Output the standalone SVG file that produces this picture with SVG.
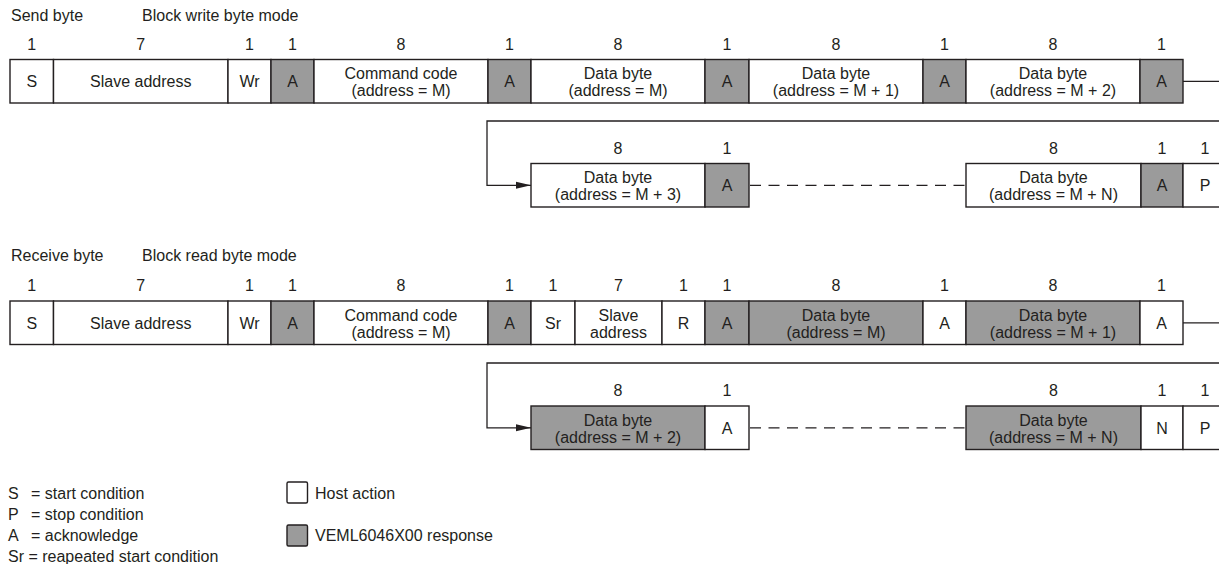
<svg xmlns="http://www.w3.org/2000/svg" width="1219" height="564" viewBox="0 0 1219 564">
<defs>
<style>
text{font-family:"Liberation Sans",Arial,sans-serif;font-size:16px;fill:#231f20}
.n{font-size:16px;text-anchor:middle}
.c{text-anchor:middle}
.h{fill:#fff;stroke:#231f20;stroke-width:1.4}
.g{fill:#9b9b9b;stroke:#231f20;stroke-width:1.4}
.ln{fill:none;stroke:#231f20;stroke-width:1.3}
.ds{fill:none;stroke:#231f20;stroke-width:1.3;stroke-dasharray:11 7.5}
</style>
<marker id="arr" markerWidth="16" markerHeight="8" refX="15" refY="4" orient="auto" markerUnits="userSpaceOnUse">
<path d="M0,0.5 L15,4 L0,7.5 Z" fill="#231f20"/>
</marker>
</defs>
<rect width="1219" height="564" fill="#fff"/>

<!-- headers -->
<text x="11" y="21">Send byte</text>
<text x="142" y="21">Block write byte mode</text>
<text x="11" y="261">Receive byte</text>
<text x="142" y="261">Block read byte mode</text>

<!-- connectors -->
<g id="connectors">
<line class="ln" x1="1183" y1="81.3" x2="1225" y2="81.3"/>
<polyline class="ln" points="1225,121 487,121 487,185.3 531,185.3" marker-end="url(#arr)"/>
<line class="ds" x1="750" y1="185.3" x2="966" y2="185.3"/>
<line class="ln" x1="1183" y1="322.8" x2="1225" y2="322.8"/>
<polyline class="ln" points="1225,363 487,363 487,427.8 531,427.8" marker-end="url(#arr)"/>
<line class="ds" x1="750" y1="427.8" x2="966" y2="427.8"/>
</g>

<!-- Row 1 -->
<g id="row1">
<g id="r1-s"><rect class="h" x="10" y="59.5" width="43.5" height="43.5"/><text class="c" x="31.75" y="87">S</text><text class="n" x="31.75" y="49.5">1</text></g>
<g id="r1-addr"><rect class="h" x="53.5" y="59.5" width="174.5" height="43.5"/><text class="c" x="140.75" y="87">Slave address</text><text class="n" x="140.75" y="49.5">7</text></g>
<g id="r1-wr"><rect class="h" x="228" y="59.5" width="43" height="43.5"/><text class="c" x="249.5" y="87">Wr</text><text class="n" x="249.5" y="49.5">1</text></g>
<g id="r1-a1"><rect class="g" x="271" y="59.5" width="43" height="43.5"/><text class="c" x="292.5" y="87">A</text><text class="n" x="292.5" y="49.5">1</text></g>
<g id="r1-cmd"><rect class="h" x="314" y="59.5" width="174" height="43.5"/><text class="c" x="401" y="79">Command code</text><text class="c" x="401" y="96">(address = M)</text><text class="n" x="401" y="49.5">8</text></g>
<g id="r1-a2"><rect class="g" x="488" y="59.5" width="43" height="43.5"/><text class="c" x="509.5" y="87">A</text><text class="n" x="509.5" y="49.5">1</text></g>
<g id="r1-d0"><rect class="h" x="531" y="59.5" width="174" height="43.5"/><text class="c" x="618" y="79">Data byte</text><text class="c" x="618" y="96">(address = M)</text><text class="n" x="618" y="49.5">8</text></g>
<g id="r1-a3"><rect class="g" x="705" y="59.5" width="44" height="43.5"/><text class="c" x="727" y="87">A</text><text class="n" x="727" y="49.5">1</text></g>
<g id="r1-d1"><rect class="h" x="749" y="59.5" width="174" height="43.5"/><text class="c" x="836" y="79">Data byte</text><text class="c" x="836" y="96">(address = M + 1)</text><text class="n" x="836" y="49.5">8</text></g>
<g id="r1-a4"><rect class="g" x="923" y="59.5" width="43" height="43.5"/><text class="c" x="944.5" y="87">A</text><text class="n" x="944.5" y="49.5">1</text></g>
<g id="r1-d2"><rect class="h" x="966" y="59.5" width="174" height="43.5"/><text class="c" x="1053" y="79">Data byte</text><text class="c" x="1053" y="96">(address = M + 2)</text><text class="n" x="1053" y="49.5">8</text></g>
<g id="r1-a5"><rect class="g" x="1140" y="59.5" width="43" height="43.5"/><text class="c" x="1161.5" y="87">A</text><text class="n" x="1161.5" y="49.5">1</text></g>
</g>

<!-- Row 2 -->
<g id="row2">
<g id="r2-d3"><rect class="h" x="531" y="163.5" width="174" height="43.5"/><text class="c" x="618" y="183">Data byte</text><text class="c" x="618" y="200">(address = M + 3)</text><text class="n" x="618" y="153.5">8</text></g>
<g id="r2-a1"><rect class="g" x="705" y="163.5" width="44" height="43.5"/><text class="c" x="727" y="191">A</text><text class="n" x="727" y="153.5">1</text></g>
<g id="r2-dn"><rect class="h" x="966" y="163.5" width="175" height="43.5"/><text class="c" x="1053.5" y="183">Data byte</text><text class="c" x="1053.5" y="200">(address = M + N)</text><text class="n" x="1053.5" y="153.5">8</text></g>
<g id="r2-a2"><rect class="g" x="1141" y="163.5" width="42" height="43.5"/><text class="c" x="1162" y="191">A</text><text class="n" x="1162" y="153.5">1</text></g>
<g id="r2-p"><rect class="h" x="1183" y="163.5" width="44" height="43.5"/><text class="c" x="1205" y="191">P</text><text class="n" x="1205" y="153.5">1</text></g>
</g>

<!-- Row 3 -->
<g id="row3">
<g id="r3-s"><rect class="h" x="10" y="301" width="43.5" height="43.5"/><text class="c" x="31.75" y="328.5">S</text><text class="n" x="31.75" y="291">1</text></g>
<g id="r3-addr"><rect class="h" x="53.5" y="301" width="174.5" height="43.5"/><text class="c" x="140.75" y="328.5">Slave address</text><text class="n" x="140.75" y="291">7</text></g>
<g id="r3-wr"><rect class="h" x="228" y="301" width="43" height="43.5"/><text class="c" x="249.5" y="328.5">Wr</text><text class="n" x="249.5" y="291">1</text></g>
<g id="r3-a1"><rect class="g" x="271" y="301" width="43" height="43.5"/><text class="c" x="292.5" y="328.5">A</text><text class="n" x="292.5" y="291">1</text></g>
<g id="r3-cmd"><rect class="h" x="314" y="301" width="174" height="43.5"/><text class="c" x="401" y="320.5">Command code</text><text class="c" x="401" y="337.5">(address = M)</text><text class="n" x="401" y="291">8</text></g>
<g id="r3-a2"><rect class="g" x="488" y="301" width="43" height="43.5"/><text class="c" x="509.5" y="328.5">A</text><text class="n" x="509.5" y="291">1</text></g>
<g id="r3-sr"><rect class="h" x="531" y="301" width="44" height="43.5"/><text class="c" x="553" y="328.5">Sr</text><text class="n" x="553" y="291">1</text></g>
<g id="r3-addr2"><rect class="h" x="575" y="301" width="87" height="43.5"/><text class="c" x="618.5" y="320.5">Slave</text><text class="c" x="618.5" y="337.5">address</text><text class="n" x="618.5" y="291">7</text></g>
<g id="r3-r"><rect class="h" x="662" y="301" width="43" height="43.5"/><text class="c" x="683.5" y="328.5">R</text><text class="n" x="683.5" y="291">1</text></g>
<g id="r3-a3"><rect class="g" x="705" y="301" width="44" height="43.5"/><text class="c" x="727" y="328.5">A</text><text class="n" x="727" y="291">1</text></g>
<g id="r3-d0"><rect class="g" x="749" y="301" width="174" height="43.5"/><text class="c" x="836" y="320.5">Data byte</text><text class="c" x="836" y="337.5">(address = M)</text><text class="n" x="836" y="291">8</text></g>
<g id="r3-a4"><rect class="h" x="923" y="301" width="43" height="43.5"/><text class="c" x="944.5" y="328.5">A</text><text class="n" x="944.5" y="291">1</text></g>
<g id="r3-d1"><rect class="g" x="966" y="301" width="174" height="43.5"/><text class="c" x="1053" y="320.5">Data byte</text><text class="c" x="1053" y="337.5">(address = M + 1)</text><text class="n" x="1053" y="291">8</text></g>
<g id="r3-a5"><rect class="h" x="1140" y="301" width="43" height="43.5"/><text class="c" x="1161.5" y="328.5">A</text><text class="n" x="1161.5" y="291">1</text></g>
</g>

<!-- Row 4 -->
<g id="row4">
<g id="r4-d2"><rect class="g" x="531" y="406" width="174" height="43.5"/><text class="c" x="618" y="425.5">Data byte</text><text class="c" x="618" y="442.5">(address = M + 2)</text><text class="n" x="618" y="396">8</text></g>
<g id="r4-a1"><rect class="h" x="705" y="406" width="44" height="43.5"/><text class="c" x="727" y="433.5">A</text><text class="n" x="727" y="396">1</text></g>
<g id="r4-dn"><rect class="g" x="966" y="406" width="175" height="43.5"/><text class="c" x="1053.5" y="425.5">Data byte</text><text class="c" x="1053.5" y="442.5">(address = M + N)</text><text class="n" x="1053.5" y="396">8</text></g>
<g id="r4-n"><rect class="h" x="1141" y="406" width="42" height="43.5"/><text class="c" x="1162" y="433.5">N</text><text class="n" x="1162" y="396">1</text></g>
<g id="r4-p"><rect class="h" x="1183" y="406" width="44" height="43.5"/><text class="c" x="1205" y="433.5">P</text><text class="n" x="1205" y="396">1</text></g>
</g>

<!-- legend -->
<g id="legend">
<text y="499"><tspan x="8">S</tspan><tspan x="31">= start condition</tspan></text>
<text y="520"><tspan x="8">P</tspan><tspan x="31">= stop condition</tspan></text>
<text y="541"><tspan x="8">A</tspan><tspan x="31">= acknowledge</tspan></text>
<text x="8" y="562">Sr = reapeated start condition</text>
<g id="legend-host"><rect class="h" x="287" y="482" width="20.5" height="21" rx="1.5"/><text x="315" y="499">Host action</text></g>
<g id="legend-resp"><rect class="g" x="287" y="525" width="20.5" height="21" rx="1.5"/><text x="315" y="541">VEML6046X00 response</text></g>
</g>
</svg>
